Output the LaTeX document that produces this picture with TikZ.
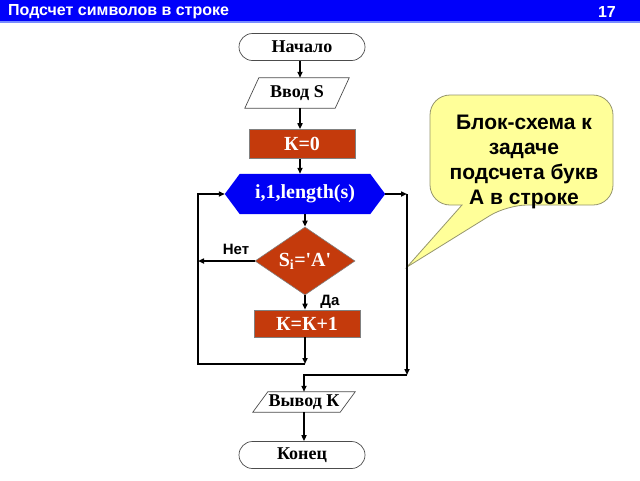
\documentclass[tikz,border=0pt]{standalone}
\usepackage{fontspec}
\setmainfont{Liberation Serif}
\newfontfamily\arialf{Liberation Sans}
\usetikzlibrary{shapes.geometric,shapes.misc,arrows.meta,calc,backgrounds}
\definecolor{barblue}{RGB}{0,0,250}
\definecolor{barline}{RGB}{120,140,255}
\definecolor{boxred}{RGB}{196,58,12}
\definecolor{hexblue}{RGB}{0,0,245}
\definecolor{calfill}{RGB}{255,255,153}
\definecolor{calline}{RGB}{150,150,110}
\begin{document}
\begin{tikzpicture}[x=1pt,y=-1pt,
  conn/.style={line width=1.7pt,-{Triangle[length=6pt,width=5pt]}},
  term/.style={rounded rectangle, draw=black!70, line width=0.7pt, fill=white,
    minimum width=126pt, minimum height=27pt, inner sep=0pt,
    font=\bfseries\fontsize{18}{20}\selectfont},
  iotext/.style={inner sep=0pt, font=\bfseries\fontsize{18}{20}\selectfont},
  ioline/.style={draw=black!70, line width=0.7pt},
  proc/.style={rectangle, fill=boxred, draw=gray, line width=0.6pt,
    minimum width=106pt, minimum height=29pt, inner sep=0pt, text=white,
    font=\bfseries\fontsize{20}{22}\selectfont},
  hextext/.style={inner sep=0pt, minimum width=160pt, minimum height=40pt,
    text=white, font=\bfseries\fontsize{20}{22}\selectfont},
  decision/.style={diamond, aspect=1.47, minimum width=100pt, minimum height=68pt,
    fill=boxred, draw=gray, line width=0.6pt, inner sep=0pt, text=white,
    font=\bfseries\fontsize{20}{22}\selectfont},
  lbl/.style={font=\arialf\bfseries\fontsize{15}{17}\selectfont, inner sep=0pt},
  titletext/.style={text=white, inner sep=0pt, font=\arialf\bfseries\fontsize{16}{18}\selectfont},
  notetext/.style={align=center, inner sep=0pt, font=\arialf\bfseries\fontsize{21}{25}\selectfont}
]
\useasboundingbox (0,0) rectangle (640,480);
\begin{scope}[on background layer]
\fill[white] (0,0) rectangle (640,480);
\end{scope}
% title bar
\fill[barblue] (0,0) rectangle (640,21);
\fill[barline] (0,21) rectangle (640,23);
\node[titletext, anchor=west] (title) at (8,11.5) {Подсчет символов в строке};
\node[titletext, anchor=east] (num) at (616,11.5) {17};

% column coordinates
\coordinate (c1) at (300,0);
\coordinate (c2) at (305,0);
\coordinate (c3) at (304,0);

% nodes
\node[term] (start) at (302,47) {Начало};
\node[iotext, minimum width=90pt, minimum height=30pt] (in) at (297,93) {Ввод S};
\draw[ioline] ($(in.south west)+(-7,0)$) -- ($(in.north west)+(7,0)$)
  -- ($(in.north east)+(7,0)$) -- ($(in.south east)+(-7,0)$) -- cycle;
\node[proc] (k0) at (302,144) {К=0};
\node[hextext] (hex) at (305,194) {i,1,length(s)};
\begin{scope}[on background layer]
\fill[hexblue] (hex.west) -- ($(hex.north west)+(15,0)$) -- ($(hex.north east)+(-15,0)$)
  -- (hex.east) -- ($(hex.south east)+(-15,0)$) -- ($(hex.south west)+(15,0)$) -- cycle;
\end{scope}
\node[decision] (dia) at (305,261) {S\textsubscript{i}=\textquotesingle A\textquotesingle};
\node[proc, minimum height=27pt] (kk) at (307,323.5) {К=К+1};
\node[iotext, minimum width=87pt, minimum height=20pt] (out) at (304,402) {Вывод К};
\draw[ioline] ($(out.south west)+(-7.5,0)$) -- ($(out.north west)+(7.5,0)$)
  -- ($(out.north east)+(7.5,0)$) -- ($(out.south east)+(-7.5,0)$) -- cycle;
\node[term] (stop) at (302,455) {Конец};

% loop coordinates
\coordinate (jl) at (305,364);
\coordinate (lb) at (198,364);
\coordinate (rb) at (407,375);

% connectors
\draw[conn] (start.south -| c1) -- (in.north -| c1);
\draw[conn] (in.south -| c1) -- (k0.north -| c1);
\draw[conn] (k0.south -| c1) -- (hex.north -| c1);
\draw[conn] (hex.south -| c2) -- (dia.north -| c2);
\draw[conn] (dia.south -| c2) -- (kk.north -| c2);
\draw[conn] (kk.south -| c2) -- (jl);
\draw[conn] (jl) -- (lb) |- (hex.west);
\draw[conn] (dia.west) -- (dia.west -| lb);
\draw[conn] (hex.east) -- (hex.east -| rb);
\draw[conn] (hex.east -| rb) -- (rb);
\draw[conn] (rb) -| (out.north -| c3);
\draw[conn] (out.south -| c3) -- (stop.north -| c3);

% labels
\node[lbl] (no) at (236,249) {Нет};
\node[lbl] (yes) at (330,302) {Да};

% callout
\node[notetext] (note) at (524,162) {Блок-схема к\\задаче\\подсчета букв\\А в строке};
\coordinate (tip) at (407,267);
\begin{scope}[on background layer]
\draw[fill=calfill, draw=calline, line width=0.8pt]
  (430,150) [rounded corners=20pt] |- (613,95) |- (507,205)
  [sharp corners] -- (tip) -- (462,205)
  [rounded corners=20pt] -| (430,150) -- cycle;
\end{scope}
\end{tikzpicture}
\end{document}
